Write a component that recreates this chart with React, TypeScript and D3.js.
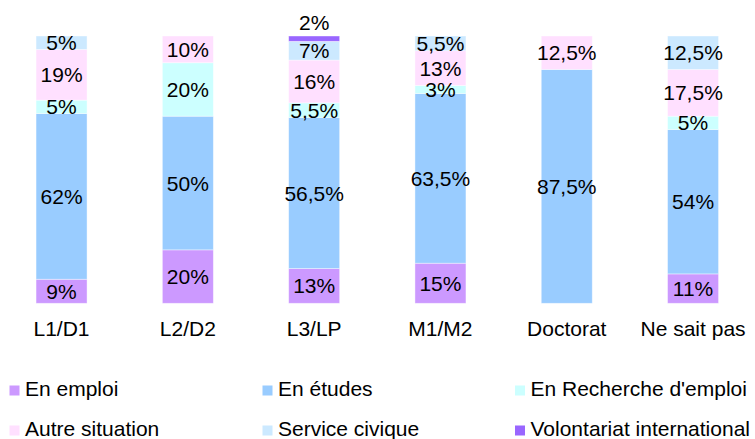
import React, { useEffect, useRef } from "react";
import * as d3 from "d3";

const categories = ["L1/D1", "L2/D2", "L3/LP", "M1/M2", "Doctorat", "Ne sait pas"];
const series = [
  "En emploi",
  "En études",
  "En Recherche d'emploi",
  "Autre situation",
  "Service civique",
  "Volontariat international",
];
const enEmploi = [9, 20, 13, 15, 0, 11];
const enEtudes = [62, 50, 56.5, 63.5, 87.5, 54];
const enRecherche = [5, 20, 5.5, 3, 0, 5];
const autreSituation = [19, 10, 16, 13, 12.5, 17.5];
const serviceCivique = [5, 0, 7, 5.5, 0, 12.5];
const volontariat = [0, 0, 2, 0, 0, 0];
const colors = ["#cc99ff", "#99ccff", "#ccffff", "#ffe0ff", "#cce9ff", "#9966ff"];

const W = 755;
const H = 439;

const App = () => {
  const svgRef = useRef<SVGSVGElement>(null);

  useEffect(() => {
    const values = [enEmploi, enEtudes, enRecherche, autreSituation, serviceCivique, volontariat];
    const rows = categories.map((c, i) => {
      const r: any = { cat: c };
      series.forEach((s, j) => (r[s] = values[j][i]));
      return r;
    });
    const stacked = d3.stack().keys(series)(rows);

    const x = d3.scaleBand().domain(categories).range([-1.6, 756.2]).padding(0);
    const barW = 51;
    const y = d3.scaleLinear().domain([0, 100]).range([303.3, 36]);
    const color = d3.scaleOrdinal<string>().domain(series).range(colors);
    const fmt = (v: number) => String(v).replace(".", ",") + "%";

    const svg = d3.select(svgRef.current);
    svg.selectAll("*").remove();
    const font = "'Liberation Sans', Arial, Helvetica, sans-serif";
    const fs = 21;

    const layers = svg
      .append("g")
      .selectAll("g")
      .data(stacked)
      .join("g")
      .attr("fill", (d) => color(d.key));

    layers
      .selectAll("rect")
      .data((d) => d.filter((p) => p[1] - p[0] > 0))
      .join("rect")
      .attr("x", (d) => (x(d.data.cat as any) as number) + (x.bandwidth() - barW) / 2)
      .attr("width", barW)
      .attr("y", (d) => y(d[1]))
      .attr("height", (d) => y(d[0]) - y(d[1]))
      .attr("stroke", "#ffffff")
      .attr("stroke-opacity", 0.5)
      .attr("stroke-width", 0.8);

    // data labels
    const labels = svg.append("g").attr("font-family", font).attr("font-size", fs).attr("fill", "#000");
    stacked.forEach((layer) => {
      layer.forEach((p) => {
        const v = p[1] - p[0];
        if (v <= 0) return;
        const cx = (x(p.data.cat as any) as number) + x.bandwidth() / 2;
        const small = layer.key === "Volontariat international";
        labels
          .append("text")
          .attr("x", cx)
          .attr("y", small ? y(p[1]) - 6.5 : (y(p[0]) + y(p[1])) / 2 + 7.5)
          .attr("text-anchor", "middle")
          .text(fmt(+v.toFixed(1)));
      });
    });

    // category labels
    svg
      .append("g")
      .selectAll("text")
      .data(categories)
      .join("text")
      .attr("x", (d) => (x(d) as number) + x.bandwidth() / 2)
      .attr("y", 336)
      .attr("text-anchor", "middle")
      .attr("font-family", font)
      .attr("font-size", fs)
      .text((d) => d);

    // legend
    const legCols = [9.5, 262.5, 515];
    const legRows = [385.5, 425.5];
    const legend = svg
      .append("g")
      .selectAll("g")
      .data(series)
      .join("g")
      .attr("transform", (d, i) => `translate(${legCols[i % 3]},${legRows[Math.floor(i / 3)]})`);
    legend
      .append("rect")
      .attr("width", 10)
      .attr("height", 10)
      .attr("fill", (d) => color(d));
    legend
      .append("text")
      .attr("x", 15.5)
      .attr("y", 10.5)
      .attr("font-family", font)
      .attr("font-size", fs)
      .text((d) => d);
  }, []);

  return (
    <div style={{ position: "absolute", left: 0, top: 0 }}>
      <svg ref={svgRef} width={W} height={H} style={{ display: "block", background: "#fff" }}></svg>
    </div>
  );
};

export default App;
